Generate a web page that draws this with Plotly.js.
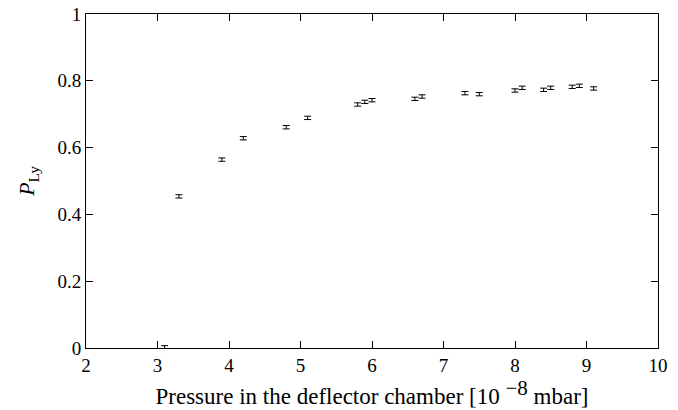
<!DOCTYPE html>
<html>
<head>
<meta charset="utf-8">
<script src="https://cdn.plot.ly/plotly-3.0.1.min.js"></script>
<style>html,body{margin:0;padding:0;background:#fff;}#chart{width:678px;height:410px;}</style>
</head>
<body>
<div id="chart"></div>
<script>
const pressure = [3.1, 3.3, 3.9, 4.2, 4.8, 5.1, 5.8, 5.9, 6.0, 6.6, 6.7, 7.3, 7.5, 8.0, 8.1, 8.4, 8.5, 8.8, 8.9, 9.1];
const polarization = [0.002, 0.454, 0.564, 0.628, 0.661, 0.689, 0.729, 0.737, 0.742, 0.746, 0.753, 0.763, 0.760, 0.771, 0.779, 0.773, 0.779, 0.782, 0.785, 0.777];
const errors = [0.005, 0.005, 0.005, 0.005, 0.005, 0.005, 0.005, 0.005, 0.005, 0.005, 0.005, 0.005, 0.005, 0.005, 0.005, 0.005, 0.005, 0.005, 0.005, 0.005];
const xTicks = [2, 3, 4, 5, 6, 7, 8, 9, 10];
const yTicks = [0, 0.2, 0.4, 0.6, 0.8, 1];
const yTickText = ['0', '0.2', '0.4', '0.6', '0.8', '1'];

const font = {family: '"Liberation Serif", "DejaVu Serif", serif', color: '#000'};

const trace = {
  x: pressure,
  y: polarization,
  type: 'scatter',
  mode: 'markers',
  marker: {size: 1, color: 'rgba(0,0,0,0)'},
  error_y: {type: 'data', array: errors, visible: true, color: '#000', thickness: 1, width: 3.5},
  showlegend: false,
  hoverinfo: 'x+y'
};

const layout = {
  width: 678,
  height: 410,
  margin: {l: 86, r: 20, t: 14, b: 62},
  paper_bgcolor: '#fff',
  plot_bgcolor: '#fff',
  font: Object.assign({size: 19}, font),
  xaxis: {
    range: [2, 10],
    tickvals: xTicks,
    ticktext: xTicks.map(String),
    ticks: 'inside',
    ticklen: 7,
    tickwidth: 1,
    tickcolor: '#000',
    showline: true,
    linecolor: '#000',
    linewidth: 1,
    mirror: 'allticks',
    showgrid: false,
    zeroline: false,
    tickfont: Object.assign({size: 19}, font),
    title: {text: 'Pressure in the deflector chamber [10 <sup><span style="font-size:21px">−8</span></sup> mbar]', font: Object.assign({size: 23}, font), standoff: 9}
  },
  yaxis: {
    range: [0, 1],
    tickvals: yTicks,
    ticktext: yTickText,
    ticks: 'inside',
    ticklen: 7,
    tickwidth: 1,
    tickcolor: '#000',
    showline: true,
    linecolor: '#000',
    linewidth: 1,
    mirror: 'allticks',
    showgrid: false,
    zeroline: false,
    tickfont: Object.assign({size: 19}, font),
    title: {text: '<i>P</i><sub>Ly</sub>', font: Object.assign({size: 22}, font), standoff: 16}
  }
};

Plotly.newPlot('chart', [trace], layout, {displayModeBar: false, staticPlot: true});
</script>
</body>
</html>
